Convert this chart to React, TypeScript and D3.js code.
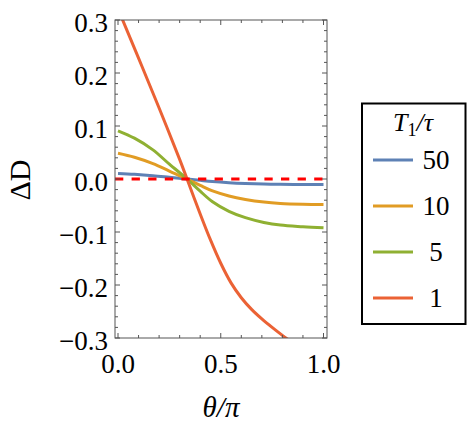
import React from "react";
import * as d3 from "d3";

const xs = [0, 0.08, 0.17, 0.25, 0.336, 0.4, 0.46, 0.54, 0.62, 0.71, 0.79, 0.9, 1];
const blueVals = [0.0105, 0.0089, 0.0063, 0.0033, 0, -0.0026, -0.0049, -0.007, -0.0084, -0.0094, -0.01, -0.0103, -0.0104];
const orangeVals = [0.0485, 0.041, 0.029, 0.015, 0, -0.012, -0.0225, -0.032, -0.0385, -0.0435, -0.046, -0.0475, -0.048];
const greenVals = [0.091, 0.077, 0.055, 0.028, 0, -0.023, -0.043, -0.061, -0.073, -0.082, -0.087, -0.09, -0.092];
const redXs = [0, 0.1, 0.2, 0.3, 0.336, 0.4, 0.45, 0.5, 0.55, 0.6, 0.65, 0.7, 0.75, 0.8, 0.85];
const redVals = [0.321, 0.228, 0.134, 0.037, 0, -0.066, -0.115, -0.159, -0.196, -0.224, -0.246, -0.264, -0.28, -0.295, -0.309];

const legendLabels = ["50", "10", "5", "1"];
const colors = ["#5E81B5", "#E19C24", "#8FB032", "#EB6235"];
const yTicks = [-0.3, -0.2, -0.1, 0, 0.1, 0.2, 0.3];
const xTicks = [0, 0.5, 1];

const FONT = '"Liberation Serif", "Times New Roman", Tinos, serif';

export default function App() {
  const L = 115, R = 327, T = 20, B = 338;
  const x = d3.scaleLinear().domain([0, 1]).range([118, 323.5]);
  const y = d3.scaleLinear().domain([-0.3, 0.3]).range([B, T]);
  const line = d3.line<[number, number]>().x(d => x(d[0])).y(d => y(d[1])).curve(d3.curveCatmullRom.alpha(0.5));
  const series: [number, number][][] = [
    xs.map((v, i) => [v, blueVals[i]]),
    xs.map((v, i) => [v, orangeVals[i]]),
    xs.map((v, i) => [v, greenVals[i]]),
    redXs.map((v, i) => [v, redVals[i]]),
  ];
  const yMinor = d3.range(-0.3, 0.3001, 0.02);
  const xMinor = d3.range(0, 1.0001, 0.1);
  const frameColor = "#555";
  const ts = { fontFamily: FONT } as React.CSSProperties;
  return (
    <svg width={468} height={429} style={{ position: "absolute", left: 0, top: 0, background: "#fff", fontFamily: FONT }}>
      <defs>
        <clipPath id="plotclip">
          <rect x={L} y={T} width={R - L} height={B - T} />
        </clipPath>
      </defs>
      <g clipPath="url(#plotclip)">
        {series.map((s, i) => (
          <path key={i} d={line(s) || ""} fill="none" stroke={colors[i]} strokeWidth={3} />
        ))}
        <line x1={L} x2={R} y1={y(0)} y2={y(0)} stroke="#FF0000" strokeWidth={3} strokeDasharray="8.3,8.3" />
      </g>
      <rect x={L} y={T} width={R - L} height={B - T} fill="none" stroke={frameColor} strokeWidth={1} />
      {yMinor.map((v, i) => {
        const major = Math.abs(Math.round(v * 10) - v * 10) < 1e-6;
        const len = major ? 5 : 3;
        return (
          <g key={"ym" + i}>
            <line x1={L} x2={L + len} y1={y(v)} y2={y(v)} stroke={frameColor} strokeWidth={1} />
            <line x1={R} x2={R - len} y1={y(v)} y2={y(v)} stroke={frameColor} strokeWidth={1} />
          </g>
        );
      })}
      {xMinor.map((v, i) => {
        const major = Math.abs(Math.round(v * 2) - v * 2) < 1e-6;
        const len = major ? 5 : 3;
        return (
          <g key={"xm" + i}>
            <line x1={x(v)} x2={x(v)} y1={B} y2={B - len} stroke={frameColor} strokeWidth={1} />
            <line x1={x(v)} x2={x(v)} y1={T} y2={T + len} stroke={frameColor} strokeWidth={1} />
          </g>
        );
      })}
      {yTicks.map((v, i) => (
        <text key={"yt" + i} x={108} y={y(v) + 11.7} textAnchor="end" fontSize={27} fill="#000" style={ts}>
          {(v < 0 ? "\u2212" : "") + Math.abs(v).toFixed(1)}
        </text>
      ))}
      {xTicks.map((v, i) => (
        <text key={"xt" + i} x={x(v)} y={372.5} textAnchor="middle" fontSize={27} fill="#000" style={ts}>
          {v.toFixed(1)}
        </text>
      ))}
      <text x={221} y={417} textAnchor="middle" fontSize={29} fontStyle="italic" style={ts}>
        θ/π
      </text>
      <text transform="translate(30,180) rotate(-90)" textAnchor="middle" fontSize={30} style={ts}>
        ΔD
      </text>
      <rect x={362} y={103.5} width={103.5} height={220.5} fill="#fff" stroke="#000" strokeWidth={2} />
      <text x={413} y={131} textAnchor="middle" fontSize={26} style={ts}>
        <tspan fontStyle="italic">T</tspan>
        <tspan fontSize={18} dy={5}>1</tspan>
        <tspan dy={-5} fontStyle="italic">/τ</tspan>
      </text>
      {legendLabels.map((lab, i) => {
        const ly = 160 + i * 46;
        return (
          <g key={"lg" + i}>
            <line x1={373} x2={413} y1={ly} y2={ly} stroke={colors[i]} strokeWidth={3} />
            <text x={436} y={ly + 9} textAnchor="middle" fontSize={27} style={ts}>
              {lab}
            </text>
          </g>
        );
      })}
    </svg>
  );
}
